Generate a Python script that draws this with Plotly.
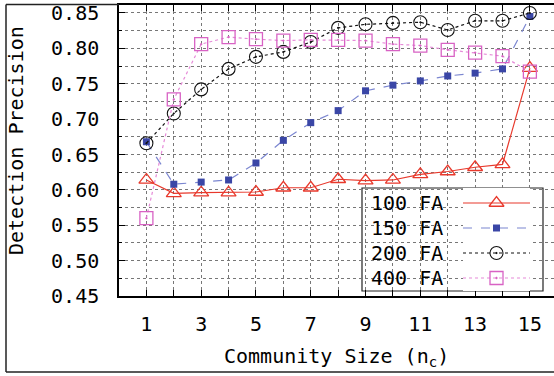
import plotly.graph_objects as go

community_size = list(range(1, 16))
fa100 = [0.614, 0.595, 0.596, 0.596, 0.597, 0.603, 0.603, 0.615, 0.613, 0.614, 0.622, 0.626, 0.632, 0.636, 0.772]
fa150 = [0.668, 0.608, 0.611, 0.614, 0.638, 0.670, 0.695, 0.712, 0.740, 0.748, 0.754, 0.761, 0.765, 0.771, 0.845]
fa200 = [0.666, 0.708, 0.742, 0.771, 0.788, 0.795, 0.809, 0.829, 0.834, 0.836, 0.837, 0.826, 0.839, 0.839, 0.850]
fa400 = [0.560, 0.728, 0.806, 0.816, 0.813, 0.811, 0.812, 0.812, 0.811, 0.806, 0.804, 0.798, 0.794, 0.789, 0.767]
series_names = ["100 FA", "150 FA", "200 FA", "400 FA"]
x_tick_labels = ["1", "3", "5", "7", "9", "11", "13", "15"]

FONT = "DejaVu Sans Mono"
W, H = 554, 376
L, R, T, B = 119, 554, 5, 296  # plot area in pixels


def px_x(p):
    return (p - L) / (R - L)


def px_y(p):
    return (B - p) / (B - T)


styles = [
    dict(line=dict(color="#e8392c", width=1.2, dash="solid"),
         marker=dict(symbol="triangle-up-open", size=13, color="#e8392c", line=dict(width=1.3))),
    dict(line=dict(color="#7b86d0", width=1.2, dash="dash"),
         marker=dict(symbol="square", size=7, color="#3a46a6")),
    dict(line=dict(color="#111111", width=1.2, dash="dot"),
         marker=dict(symbol="circle-open-dot", size=13, color="#111111", line=dict(width=1.1))),
    dict(line=dict(color="#e68ad8", width=1.2, dash="dot"),
         marker=dict(symbol="square-open-dot", size=13, color="#d862c4", line=dict(width=1.3))),
]
values = [fa100, fa150, fa200, fa400]

fig = go.Figure()
for name, vals, st in zip(series_names, values, styles):
    fig.add_trace(go.Scatter(x=community_size, y=vals, mode="lines+markers", name=name,
                             line=st["line"], marker=st["marker"], showlegend=False,
                             cliponaxis=False))

# legend box
lx0, lx1, ly0, ly1 = 362, 543, 188, 291
fig.add_shape(type="rect", xref="paper", yref="paper",
              x0=px_x(lx0), x1=px_x(lx1), y0=px_y(ly1), y1=px_y(ly0),
              fillcolor="white", line=dict(color="#222222", width=1.2), layer="between")

row_px = [203, 228, 253, 278]
for name, rp, st in zip(series_names, row_px, styles):
    fig.add_annotation(x=px_x(369), y=px_y(rp), xref="paper", yref="paper", text=name,
                       showarrow=False, xanchor="left", yanchor="middle",
                       font=dict(family=FONT, size=20, color="black"))
    fig.add_trace(go.Scatter(x=[0, 1], y=[-rp, -rp], mode="lines", line=st["line"],
                             xaxis="x2", yaxis="y2", showlegend=False, hoverinfo="skip"))
    fig.add_trace(go.Scatter(x=[0.5], y=[-rp], mode="markers", marker=st["marker"],
                             xaxis="x2", yaxis="y2", showlegend=False, hoverinfo="skip"))

# outer frame (cropped figure border): left, bottom and top edges
frame = dict(color="#222222", width=1.5)
fig.add_shape(type="line", xref="paper", yref="paper", x0=px_x(6), x1=px_x(6),
              y0=px_y(372), y1=px_y(4.5), line=frame, layer="above")
fig.add_shape(type="line", xref="paper", yref="paper", x0=px_x(6), x1=px_x(554),
              y0=px_y(372), y1=px_y(372), line=frame, layer="above")
fig.add_shape(type="line", xref="paper", yref="paper", x0=px_x(6), x1=px_x(119),
              y0=px_y(4.5), y1=px_y(4.5), line=frame, layer="above")

grid = dict(showgrid=True, gridcolor="#777777", griddash="dot", gridwidth=1)

fig.update_layout(
    width=W, height=H,
    margin=dict(l=L, r=W - R, t=T, b=H - B),
    plot_bgcolor="white", paper_bgcolor="white",
    font=dict(family=FONT, size=20, color="black"),
    xaxis=dict(range=[0, 15.88], tickvals=[int(t) for t in x_tick_labels], ticktext=x_tick_labels,
               ticks="inside", ticklen=6, tickcolor="black", showline=True, linecolor="black",
               linewidth=1.5, mirror="ticks", zeroline=False, ticklabelstandoff=9,
               minor=dict(dtick=1, tick0=0, ticks="inside", ticklen=6, tickcolor="black", **grid),
               **grid),
    yaxis=dict(range=[0.45, 0.8613], dtick=0.05, tick0=0.45, tickformat=".2f",
               ticks="inside", ticklen=6, tickcolor="black", showline=True, linecolor="black",
               linewidth=1.5, zeroline=False, ticklabelstandoff=14,
               minor=dict(dtick=0.025, tick0=0.45, ticks="inside", ticklen=3, tickcolor="black", **grid),
               **grid),
    xaxis2=dict(domain=[px_x(463), px_x(530)], range=[0, 1], anchor="y2", visible=False,
                fixedrange=True),
    yaxis2=dict(domain=[px_y(ly1), px_y(ly0)], range=[-ly1, -ly0], anchor="x2", visible=False,
                fixedrange=True),
)

fig.add_annotation(x=px_x(16), y=px_y(141), xref="paper", yref="paper", text="Detection Precision",
                   showarrow=False, textangle=-90, xanchor="center", yanchor="middle",
                   font=dict(family=FONT, size=20, color="black"))
fig.add_annotation(x=0.5, y=px_y(357), xref="paper", yref="paper",
                   text="Community Size (n<sub>c</sub>)",
                   showarrow=False, xanchor="center", yanchor="middle",
                   font=dict(family=FONT, size=20, color="black"))

fig.write_html("out.html", config={"displayModeBar": False},
               post_script="document.body.style.margin='0px';")
